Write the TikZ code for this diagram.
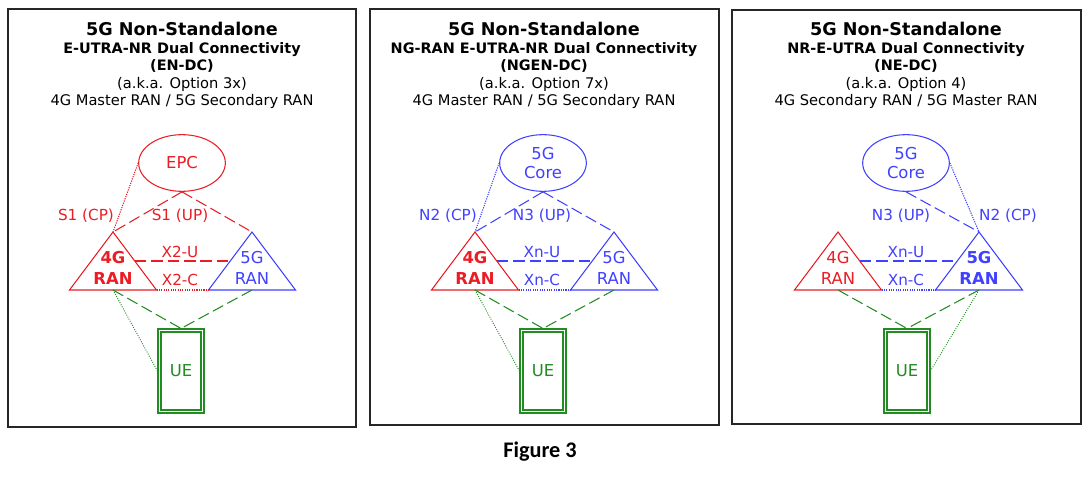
\documentclass[tikz,border=0pt]{standalone}
\usepackage{fontspec}
\setmainfont{DejaVu Sans}
\newfontfamily\capfont{Carlito}
\usetikzlibrary{shapes.geometric}

\definecolor{lred}{RGB}{235,28,36}
\definecolor{nblue}{RGB}{64,64,255}
\definecolor{ugreen}{RGB}{34,139,34}

\newcommand{\hdmain}[1]{{\fontsize{15}{15}\selectfont\bfseries #1}}
\newcommand{\hdsub}[1]{{\fontsize{12.3}{15}\selectfont\bfseries #1}}

\begin{document}
\begin{tikzpicture}[x=0.03cm, y=-0.03cm,
    frame/.style={draw=black!85, line width=1pt},
    heading/.style={align=center, font=\fontsize{12.5}{15}\selectfont},
    core/.style={ellipse, draw, line width=0.9pt, minimum width=2.6cm, minimum height=1.7cm, inner sep=0pt, align=center, font=\fontsize{14}{17}\selectfont},
    tri/.style={isosceles triangle, isosceles triangle stretches, shape border rotate=90, minimum width=2.61cm, minimum height=1.74cm, inner sep=0pt, outer sep=0pt, draw, line width=0.9pt, anchor=apex},
    ranlbl/.style={align=center, font=\fontsize{14}{17.3}\selectfont},
    ranbold/.style={align=center, font=\fontsize{14}{17.3}\selectfont\bfseries},
    ue/.style={rectangle, draw=ugreen, line width=0.9pt, minimum width=1.38cm, minimum height=2.52cm, inner sep=0pt, text=ugreen, font=\fontsize{14}{17}\selectfont},
    uein/.style={rectangle, draw=ugreen, line width=0.9pt, minimum width=1.2cm, minimum height=2.34cm, inner sep=0pt},
    lbl/.style={font=\fontsize{13}{15}\selectfont},
    up/.style={dash pattern=on 10pt off 4pt, line width=0.9pt},
    cp/.style={dash pattern=on 1pt off 1pt, line width=0.9pt},
    air/.style={ugreen, dash pattern=on 10pt off 4pt, line width=0.9pt},
    airc/.style={ugreen, dash pattern=on 0.8pt off 1.2pt, line width=0.8pt}
]
\useasboundingbox (0,0) rectangle (1090,480);

% EN-DC
\draw[frame] (8,9) rectangle (356,427);
\node[heading] (head1) at (182,65.5) {\hdmain{5G Non-Standalone}\\ \hdsub{E-UTRA-NR Dual Connectivity}\\ \hdsub{(EN-DC)}\\ (a.k.a. Option 3x)\\ 4G Master RAN / 5G Secondary RAN};
\node[core, lred] (epc) at (182,163) {EPC};
\node[tri, lred] (lte1) at (113,232) {};
\node[tri, nblue] (nr1) at (252,232) {};
\node[ranbold, lred] (lte1t) at (113,268) {4G\\RAN};
\node[ranlbl, nblue] (nr1t) at (252,268) {5G\\RAN};
\node[ue] (ue1) at (181,371) {UE};
\node[uein] (ue1in) at (181,371) {};
\node[lbl, lred] (s1cp) at (86,216) {S1 (CP)};
\node[lbl, lred] (s1up) at (180,216) {S1 (UP)};
\node[lbl, lred] (x2u) at (180,252) {X2-U};
\node[lbl, lred] (x2c) at (180,280) {X2-C};
\draw[cp, lred] (epc.west) -- (lte1.apex);
\draw[up, lred] (epc.south) -- (lte1.apex);
\draw[up, lred] (epc.south) -- (nr1.apex);
\draw[up, lred] (lte1.right side) -- (nr1.left side);
\draw[cp, lred] (lte1.right corner) -- (nr1.left corner);
\draw[air] (lte1.lower side) -- (ue1.north);
\draw[air] (nr1.lower side) -- (ue1.north);
\draw[airc] (lte1.lower side) -- (ue1.west);

% NGEN-DC
\begin{scope}[shift={(362,0)}]
\draw[frame] (8,9) rectangle (357,425);
\node[heading] (head2) at (182,65.5) {\hdmain{5G Non-Standalone}\\ \hdsub{NG-RAN E-UTRA-NR Dual Connectivity}\\ \hdsub{(NGEN-DC)}\\ (a.k.a. Option 7x)\\ 4G Master RAN / 5G Secondary RAN};
\node[core, nblue] (core2) at (181,163) {5G\\Core};
\node[tri, lred] (lte2) at (113,232) {};
\node[tri, nblue] (nr2) at (252,232) {};
\node[ranbold, lred] (lte2t) at (113,268) {4G\\RAN};
\node[ranlbl, nblue] (nr2t) at (252,268) {5G\\RAN};
\node[ue] (ue2) at (181,371) {UE};
\node[uein] (ue2in) at (181,371) {};
\node[lbl, nblue] (n2cp) at (86,216) {N2 (CP)};
\node[lbl, nblue] (n3up) at (180,216) {N3 (UP)};
\node[lbl, nblue] (xnu2) at (180,252) {Xn-U};
\node[lbl, nblue] (xnc2) at (180,280) {Xn-C};
\draw[cp, nblue] (core2.west) -- (lte2.apex);
\draw[up, nblue] (core2.south) -- (lte2.apex);
\draw[up, nblue] (core2.south) -- (nr2.apex);
\draw[up, nblue] (lte2.right side) -- (nr2.left side);
\draw[cp, nblue] (lte2.right corner) -- (nr2.left corner);
\draw[air] (lte2.lower side) -- (ue2.north);
\draw[air] (nr2.lower side) -- (ue2.north);
\draw[airc] (lte2.lower side) -- (ue2.west);
\end{scope}

% NE-DC
\begin{scope}[shift={(724,0)}]
\draw[frame] (8,10) rectangle (357,424);
\node[heading] (head3) at (182,65.5) {\hdmain{5G Non-Standalone}\\ \hdsub{NR-E-UTRA Dual Connectivity}\\ \hdsub{(NE-DC)}\\ (a.k.a. Option 4)\\ 4G Secondary RAN / 5G Master RAN};
\node[core, nblue] (core3) at (182,163) {5G\\Core};
\node[tri, lred] (lte3) at (114,232) {};
\node[tri, nblue] (nr3) at (255,232) {};
\node[ranlbl, lred] (lte3t) at (114,268) {4G\\RAN};
\node[ranbold, nblue] (nr3t) at (255,268) {5G\\RAN};
\node[ue] (ue3) at (183,371) {UE};
\node[uein] (ue3in) at (183,371) {};
\node[lbl, nblue] (n3up3) at (177,216) {N3 (UP)};
\node[lbl, nblue] (n2cp3) at (284,216) {N2 (CP)};
\node[lbl, nblue] (xnu3) at (182,252) {Xn-U};
\node[lbl, nblue] (xnc3) at (182,280) {Xn-C};
\draw[up, nblue] (core3.south) -- (nr3.apex);
\draw[cp, nblue] (core3.east) -- (nr3.apex);
\draw[up, nblue] (lte3.right side) -- (nr3.left side);
\draw[cp, nblue] (lte3.right corner) -- (nr3.left corner);
\draw[air] (lte3.lower side) -- (ue3.north);
\draw[air] (nr3.lower side) -- (ue3.north);
\draw[airc] (nr3.lower side) -- (ue3.east);
\end{scope}

\node[font=\capfont\bfseries\fontsize{19}{21}\selectfont] (cap) at (540,452) {Figure 3};
\end{tikzpicture}
\end{document}
